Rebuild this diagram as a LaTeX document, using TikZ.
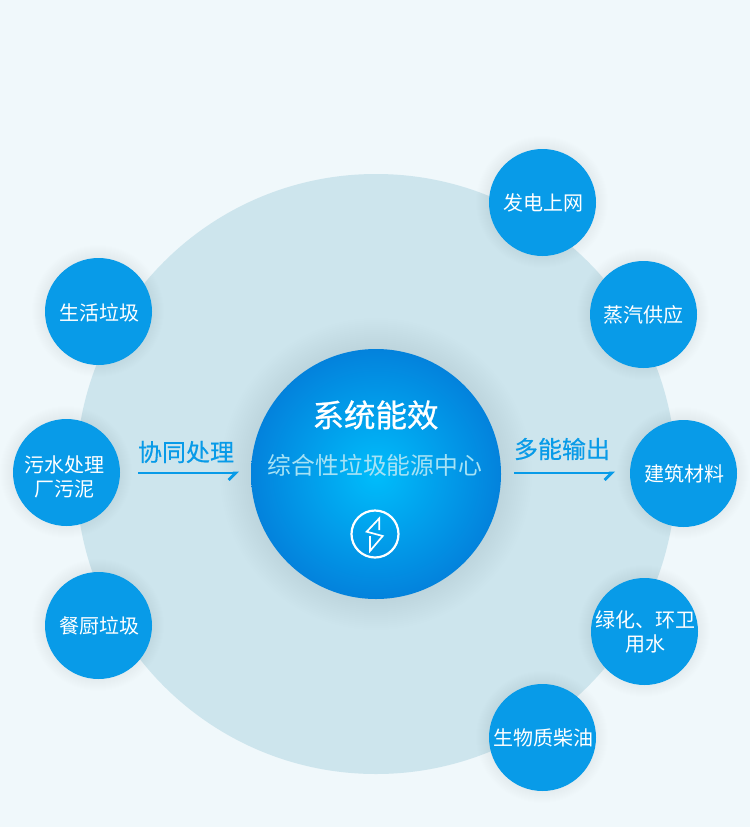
\documentclass[tikz,border=0pt]{standalone}
\usepackage{fontspec}
\setmainfont{Noto Sans CJK SC}
\newfontfamily\midfont[FakeBold=0.8]{Noto Sans CJK SC}
\newfontfamily\lightbold[FakeBold=0.4]{Noto Sans CJK SC}
\usetikzlibrary{arrows.meta}
\definecolor{bgcol}{HTML}{F0F8FB}
\definecolor{bigcol}{HTML}{CDE5ED}
\definecolor{dotcol}{HTML}{089BE8}
\definecolor{hubin}{HTML}{00BDFB}
\definecolor{hubout}{HTML}{0382DC}
\definecolor{subcol}{HTML}{A6E2F5}
\tikzset{
  dot/.style={circle,fill=dotcol,draw=none,minimum size=107pt,inner sep=0pt},
  dotlab/.style={inner sep=0pt,text=white,font=\fontsize{20}{24.5}\selectfont,align=center},
  flow/.style={inner sep=0pt,text=dotcol,font=\lightbold\fontsize{24}{28}\selectfont},
  flowline/.style={draw=dotcol,line width=2.8pt,-{Straight Barb[right,length=7pt,width=14pt,line width=2.8pt]}},
}
\begin{document}
\begin{tikzpicture}[x=1pt,y=-1pt]
  \useasboundingbox (0,0) rectangle (750,827);
  \fill[bgcol] (0,0) rectangle (750,827);
  % big disc
  \fill[bigcol] (376,474) circle (300);
  % soft glow under the discs
  \foreach \px/\py in {542/202,643/314,683/473,644/631,542/737,98/311,66/472,98/625}{
    \foreach \r in {54,55,...,66}{
      \fill[black!60!bigcol,opacity=0.003] (\px,\py) circle (\r);
    }
  }
  \foreach \r in {126,128,...,156}{
    \fill[black!60!bigcol,opacity=0.003] (376,474) circle (\r);
  }
  % hub
  \shade[inner color=hubin,outer color=hubout] (376,474) circle (125);
  \node[inner sep=0pt,text=white,font=\midfont\fontsize{31.5}{36}\selectfont] (title) at (375.5,415) {系统能效};
  \node[inner sep=0pt,text=subcol,font=\fontsize{23.8}{28}\selectfont] (sub) at (375,465.5) {综合性垃圾能源中心};
  \node[circle,draw=white,line width=2.2pt,minimum size=47pt,inner sep=0pt] (icon) at (375,534) {};
  \draw[white,line width=1.7pt,line join=miter] (379.3,530) -- (379.3,518.3) -- (366.7,531.7) -- (382.7,536) -- (370,551) -- (370,536);
  % sources
  \node[dot] (huo) at (98.5,311.5) {};
  \node[dot] (wu) at (66.5,472.5) {};
  \node[dot] (can) at (98.5,625.5) {};
  \node[dotlab] (huolab) at (99,313) {生活垃圾};
  \node[dotlab] (wulab) at (64,477) {污水处理\\厂污泥};
  \node[dotlab] (canlab) at (99,626) {餐厨垃圾};
  % outputs
  \node[dot] (fa) at (542.5,202.5) {};
  \node[dot] (zheng) at (643.5,314.5) {};
  \node[dot] (jian) at (683.5,473.5) {};
  \node[dot] (lv) at (644.5,631.5) {};
  \node[dot] (sheng) at (542.5,737.5) {};
  \node[dotlab] (falab) at (543,203) {发电上网};
  \node[dotlab] (zhenglab) at (643,314.5) {蒸汽供应};
  \node[dotlab] (jianlab) at (684,473.5) {建筑材料};
  \node[dotlab] (lvlab) at (645,632) {绿化、环卫\\用水};
  \node[dotlab] (shenglab) at (543,737.5) {生物质柴油};
  % flow arrows
  \coordinate (inA) at (138,473);
  \coordinate (inB) at (239,473);
  \coordinate (outA) at (514,473);
  \coordinate (outB) at (615,473);
  \draw[flowline] (inA) -- (inB);
  \draw[flowline] (outA) -- (outB);
  \node[flow] (inlab) at (186,452) {协同处理};
  \node[flow] (outlab) at (562,449) {多能输出};
\end{tikzpicture}
\end{document}
